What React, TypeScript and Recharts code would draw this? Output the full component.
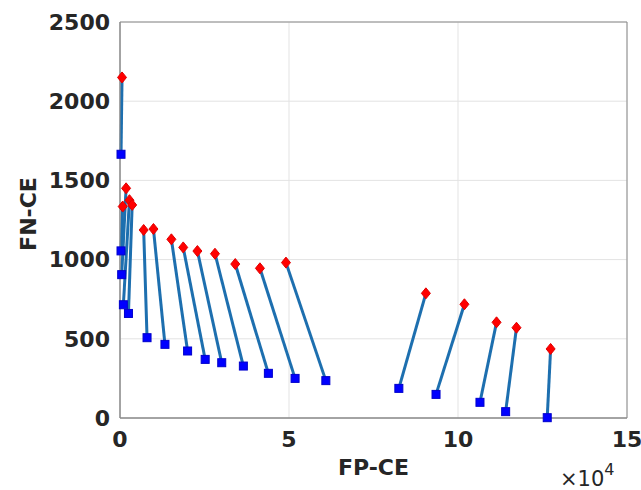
import { CartesianGrid, Line, LineChart, ReferenceArea, XAxis, YAxis } from "recharts";

// FP-CE values are in units of 1e4
const redX = [0.06, 0.08, 0.18, 0.28, 0.36, 0.7, 0.99, 1.52, 1.87, 2.29, 2.81, 3.41, 4.14, 4.91, 9.05, 10.19, 11.14, 11.73, 12.74];
const redY = [2150, 1335, 1450, 1375, 1345, 1187, 1193, 1128, 1077, 1054, 1037, 972, 945, 981, 787, 718, 604, 570, 436];
const blueX = [0.03, 0.03, 0.05, 0.1, 0.25, 0.8, 1.33, 2.0, 2.52, 3.01, 3.65, 4.39, 5.18, 6.09, 8.25, 9.35, 10.65, 11.41, 12.64];
const blueY = [1665, 1055, 905, 715, 660, 507, 465, 423, 370, 349, 328, 282, 250, 236, 187, 149, 99, 40, 2];

const xTicks = [0, 5, 10, 15];
const yTicks = [0, 500, 1000, 1500, 2000, 2500];

const FONT = "'DejaVu Sans', sans-serif";
const TEXT = "#262626";

type Pt = { x: number; y: number; kind: "red" | "blue" };

const pairs: Pt[][] = redX.map((_, i) => [
  { x: redX[i], y: redY[i], kind: "red" },
  { x: blueX[i], y: blueY[i], kind: "blue" },
]);

function Marker(props: any) {
  const { cx, cy, payload, index } = props;
  if (cx == null || cy == null) return <g key={index} />;
  if (payload.kind === "red") {
    return (
      <polygon
        key={index}
        points={`${cx},${cy - 5.5} ${cx + 4.5},${cy} ${cx},${cy + 5.5} ${cx - 4.5},${cy}`}
        fill="#ff0000"
        stroke="#e00000"
        strokeWidth={1}
      />
    );
  }
  return <rect key={index} x={cx - 4} y={cy - 4} width={8} height={8} fill="#0000ff" stroke="#0000cc" strokeWidth={1} />;
}

export default function App() {
  return (
    <div style={{ position: "absolute", left: 0, top: 0, background: "#fff" }}>
      <LineChart width={641} height={490} margin={{ top: 22, right: 14, left: 0, bottom: 0 }}>
        <CartesianGrid stroke="#e3e3e3" strokeWidth={1} />
        <XAxis
          type="number"
          dataKey="x"
          domain={[0, 15]}
          ticks={xTicks}
          height={72}
          tickSize={0}
          tickMargin={13}
          axisLine={{ stroke: "#8a8a8a" }}
          tick={{ fill: TEXT, fontSize: 22, fontWeight: "bold", fontFamily: FONT }}
          label={{
            content: (p: any) => {
              const vb = p.viewBox;
              return (
                <g>
                  <text x={vb.x + vb.width / 2} y={vb.y + 57} textAnchor="middle" fill={TEXT} fontSize={22} fontWeight="bold" fontFamily={FONT}>
                    FP-CE
                  </text>
                  <text x={vb.x + vb.width - 67} y={vb.y + 68} fill={TEXT} fontSize={21} fontFamily={FONT}>
                    ×10
                    <tspan dy={-11} fontSize={16}>4</tspan>
                  </text>
                </g>
              );
            },
          }}
        />
        <YAxis
          type="number"
          dataKey="y"
          domain={[0, 2500]}
          ticks={yTicks}
          width={120}
          tickSize={0}
          tickMargin={10}
          axisLine={{ stroke: "#8a8a8a" }}
          tick={{ fill: TEXT, fontSize: 22, fontWeight: "bold", fontFamily: FONT }}
          label={{
            content: (p: any) => {
              const vb = p.viewBox;
              const cx = vb.x + 28;
              const cy = vb.y + vb.height / 2 - 6;
              return (
                <text
                  x={cx}
                  y={cy}
                  transform={`rotate(-90 ${cx} ${cy})`}
                  textAnchor="middle"
                  dominantBaseline="central"
                  fill={TEXT}
                  fontSize={22}
                  fontWeight="bold"
                  fontFamily={FONT}
                >
                  FN-CE
                </text>
              );
            },
          }}
        />
        <ReferenceArea x1={0} x2={15} y1={0} y2={2500} fill="none" stroke="#8a8a8a" strokeWidth={1} ifOverflow="visible" />
        {pairs.map((d, i) => (
          <Line
            key={i}
            data={d}
            dataKey="y"
            type="linear"
            stroke="#1d6faf"
            strokeWidth={3}
            dot={(p: any) => <Marker {...p} key={`${i}-${p.index}`} />}
            activeDot={false}
            isAnimationActive={false}
          />
        ))}
      </LineChart>
    </div>
  );
}
